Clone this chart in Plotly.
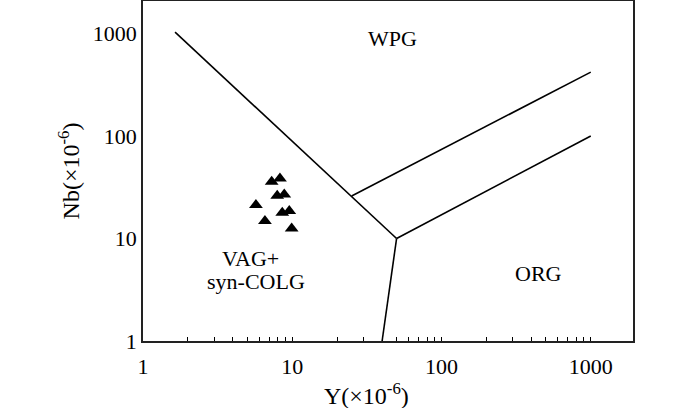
import plotly.graph_objects as go

# Sample data (Y, Nb in ppm)
sample_y = [7.28, 8.27, 7.93, 8.84, 5.71, 8.57, 9.55, 6.56, 9.91]
sample_nb = [35.7, 38.5, 26.1, 26.9, 21.2, 17.8, 18.5, 14.8, 12.5]

# Discrimination boundaries (Pearce et al., 1984)
vag_wpg_y = [1.64, 50]
vag_wpg_nb = [1030, 10]
vag_org_y = [50, 40]
vag_org_nb = [10, 1]
org_wpg_y = [50, 1000]
org_wpg_nb = [10, 100]
upper_y = [25, 1000]
upper_nb = [26, 420]

x_tickvals = [1, 2, 3, 4, 5, 6, 7, 8, 9, 10, 20, 30, 40, 50, 60, 70, 80, 90,
              100, 200, 300, 400, 500, 600, 700, 800, 900, 1000]
x_ticktext = [str(v) if v in (1, 10, 100, 1000) else "" for v in x_tickvals]
y_tickvals = [1, 10, 100, 1000]
y_ticktext = ["1", "10", "100", "1000"]

FONT = "Liberation Serif, Times New Roman, serif"

fig = go.Figure()
for xs, ys in [(vag_wpg_y, vag_wpg_nb), (vag_org_y, vag_org_nb),
               (org_wpg_y, org_wpg_nb), (upper_y, upper_nb)]:
    fig.add_trace(go.Scatter(x=xs, y=ys, mode="lines",
                             line=dict(color="black", width=1.6),
                             showlegend=False, hoverinfo="skip"))

fig.add_trace(go.Scatter(x=sample_y, y=sample_nb, mode="markers",
                         marker=dict(symbol="triangle-up", size=12, color="black"),
                         showlegend=False))

afont = dict(family=FONT, size=22, color="black")
fig.add_annotation(x=1.670, y=2.950, text="WPG", showarrow=False, font=afont)
fig.add_annotation(x=2.652, y=0.660, text="ORG", showarrow=False, font=afont)
fig.add_annotation(x=0.721, y=0.809, text="VAG+", showarrow=False, font=afont)
fig.add_annotation(x=0.755, y=0.585, text="syn-COLG", showarrow=False, font=afont)

# x-axis title (placed left of centre as in the reference)
fig.add_annotation(xref="paper", yref="paper", x=0.457, y=-0.157,
                   xanchor="center", yanchor="middle", showarrow=False,
                   text="Y(×10<sup>-6</sup>)",
                   font=dict(family=FONT, size=24, color="black"))

fig.update_xaxes(type="log", range=[0, 3.283],
                 tickvals=x_tickvals, ticktext=x_ticktext,
                 ticks="inside", ticklen=4, tickwidth=1.2, tickcolor="black",
                 ticklabelstandoff=5,
                 showgrid=False, zeroline=False,
                 showline=True, linecolor="#222", linewidth=1.6, mirror=True,
                 tickfont=dict(family=FONT, size=22, color="black"))
fig.update_yaxes(type="log", range=[0, 3.317],
                 tickvals=y_tickvals, ticktext=y_ticktext,
                 ticks="", showgrid=False, zeroline=False,
                 showline=True, linecolor="#222", linewidth=1.6, mirror=True,
                 tickfont=dict(family=FONT, size=22, color="black"),
                 title=dict(text="Nb(×10<sup>-6</sup>)", standoff=6,
                            font=dict(family=FONT, size=24, color="black")))

fig.update_layout(width=700, height=408,
                  margin=dict(l=143, r=67, t=1, b=67, autoexpand=False),
                  paper_bgcolor="white", plot_bgcolor="white")

fig.write_html("out.html", config={"displayModeBar": False},
               post_script="document.body.style.margin='0';")
